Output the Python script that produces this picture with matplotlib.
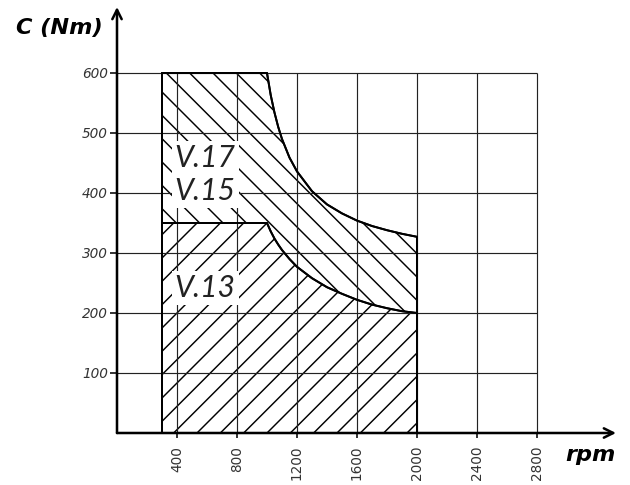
import matplotlib.pyplot as plt

# torque curves (rpm, Nm)
rpm_v17 = [1000, 1025, 1050, 1075, 1100, 1150, 1200, 1300, 1400, 1500, 1600, 1700, 1800, 1900, 2000]
nm_v17 = [600, 563, 534, 510, 490, 459, 436, 403, 381, 366, 354, 345, 338, 332, 327]
rpm_v13 = [1000, 1025, 1050, 1075, 1100, 1150, 1200, 1300, 1400, 1500, 1600, 1700, 1800, 1900, 2000]
nm_v13 = [350, 336, 324, 314, 305, 290, 277, 258, 243, 232, 222, 214, 208, 203, 200]
rpm_min = 300
rpm_max = 2000
top_v17 = 600
top_v13 = 350

x_ticks = [400, 800, 1200, 1600, 2000, 2400, 2800]
y_ticks = [100, 200, 300, 400, 500, 600]

plt.rcParams['hatch.linewidth'] = 0.75

fig = plt.figure(figsize=(4.5, 485 / 140), dpi=140)
ax = fig.add_axes([117 / 630, 52 / 485, 499 / 630, 426 / 485])
ax.set_xlim(0, 3327)
ax.set_ylim(0, 710)

# V.17 / V.15 area
xs = [rpm_min, rpm_min] + rpm_v17 + [rpm_max]
ys = [0, top_v17] + nm_v17 + [0]
ax.fill(xs, ys, facecolor='white', edgecolor='black', hatch='\\\\', lw=1.0, zorder=2)

# V.13 area
xs = [rpm_min, rpm_min] + rpm_v13 + [rpm_max]
ys = [0, top_v13] + nm_v13 + [0]
ax.fill(xs, ys, facecolor='white', edgecolor='black', hatch='//', lw=1.0, zorder=2.1)

# grid
ax.hlines(y_ticks, 0, x_ticks[-1], color='#222222', lw=0.6, zorder=3)
ax.vlines(x_ticks, 0, y_ticks[-1], color='#222222', lw=0.6, zorder=3)

# outlines again on top of the grid
ax.plot([rpm_min, rpm_min] + rpm_v17 + [rpm_max], [0, top_v17] + nm_v17 + [0], color='black', lw=1.0, zorder=4)
ax.plot([rpm_min, rpm_min] + rpm_v13, [top_v13, top_v13] + nm_v13, color='black', lw=1.0, zorder=4)

for s in ax.spines.values():
    s.set_visible(False)
arrow = dict(arrowstyle='->', lw=1.3, color='black', shrinkA=0, shrinkB=0, mutation_scale=12)
ax.annotate('', xy=(1, 0), xytext=(0, 0), xycoords='axes fraction', arrowprops=arrow, zorder=5)
ax.annotate('', xy=(0, 1), xytext=(0, 0), xycoords='axes fraction', arrowprops=arrow, zorder=5)

ax.set_xticks(x_ticks)
ax.set_xticklabels([str(v) for v in x_ticks], rotation=90, fontsize=7, color='#333333')
ax.set_yticks(y_ticks)
ax.set_yticklabels([str(v) for v in y_ticks], fontsize=7, color='#333333', style='italic')
ax.tick_params(axis='x', length=2.6, width=0.8, pad=4)
ax.tick_params(axis='y', length=3.6, width=0.8, pad=1)

lab = dict(family='Lato', style='italic', weight='normal', fontsize=15.5, va='center', ha='left',
           color='#222222', zorder=6, bbox=dict(facecolor='white', edgecolor='none', pad=1.5))
ax.text(385, 458, 'V.17', **lab)
ax.text(385, 404, 'V.15', **lab)
ax.text(385, 242, 'V.13', **lab)

fig.text(59 / 630, 1 - 28 / 485, 'C (Nm)', fontsize=11.5, weight='bold', style='italic', ha='center', va='center')
fig.text(590 / 630, 1 - 455 / 485, 'rpm', fontsize=11.5, weight='bold', style='italic', ha='center', va='center')

fig.savefig('out.png', dpi=140, facecolor='white')
